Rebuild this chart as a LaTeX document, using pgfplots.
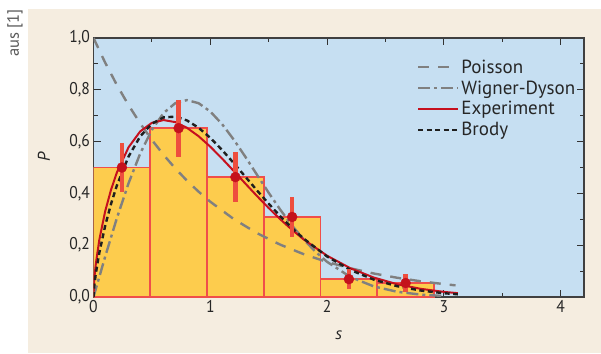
\documentclass[border=0pt]{standalone}
\usepackage{fontspec}
\setmainfont{PT Sans}
\newfontfamily\tickfont{PT Sans}[FakeStretch=0.92]
\usepackage{pgfplots}
\pgfplotsset{compat=1.18}
\definecolor{bgbeige}{RGB}{245,237,224}
\definecolor{axisblue}{RGB}{198,223,242}
\definecolor{baryellow}{RGB}{253,204,77}
\definecolor{barred}{RGB}{240,78,74}
\definecolor{ptred}{RGB}{196,18,28}
\definecolor{errred}{RGB}{238,78,62}
\definecolor{expred}{RGB}{198,16,30}
\definecolor{curvegray}{RGB}{128,128,128}
\begin{document}
\begin{tikzpicture}
\fill[white] (0pt,0pt) rectangle (601pt,353pt);
\fill[bgbeige] (28pt,0pt) rectangle (601pt,344pt);
\node[rotate=90, anchor=center, text=black!65, font=\fontsize{16.5}{16.5}\selectfont, inner sep=0pt] at (15pt,320pt) {aus [1]};
\begin{axis}[
  at={(93.5pt,56pt)}, anchor=south west,
  scale only axis, width=490.5pt, height=259pt,
  xmin=0, xmax=4.2, ymin=0, ymax=1,
  axis background/.style={fill=axisblue},
  axis line style={black!75, line width=1.2pt},
  tick align=inside,
  major tick length=7pt, minor tick length=4pt,
  tick style={black!80, line width=0.9pt},
  xtick={0,1,2,3,4}, minor x tick num=1,
  ytick={0,0.2,0.4,0.6,0.8,1.0}, minor y tick num=1,
  /pgf/number format/assume math mode=true,
  ticklabel style={font=\tickfont\fontsize{17}{17}\selectfont, text=black!85},
  yticklabel style={/pgf/number format/.cd, fixed, fixed zerofill, precision=1, use comma},
  xticklabel style={/pgf/number format/.cd, fixed, precision=0},
  xlabel={\textit{s}}, ylabel={\textit{P}},
  label style={font=\fontsize{17}{17}\selectfont, text=black!85},
  xlabel style={at={(axis description cs:0.5,-0.147)}, anchor=center},
  ylabel style={at={(axis description cs:-0.101,0.54)}, anchor=center},
  legend style={at={(axis description cs:0.659,0.925)}, anchor=north west, draw=none, fill=none,
    font=\fontsize{19}{19}\selectfont, row sep=2pt, inner sep=0pt, text=black!85},
  legend cell align=left,
  legend image code/.code={\draw[#1] (0pt,0pt) -- (40pt,0pt);},
]
\addplot[ybar interval, fill=baryellow, draw=barred, line width=1.6pt, forget plot]
  coordinates {(0,0.500) (0.486,0.652) (0.972,0.463) (1.458,0.309) (1.944,0.069) (2.43,0.054) (2.916,0.054)};
% Poisson
\addplot[curvegray, line width=2.4pt, dash pattern=on 11pt off 9pt]
  coordinates {(0,1) (0.1,0.9048) (0.2,0.8187) (0.3,0.7408) (0.4,0.6703) (0.5,0.6065) (0.6,0.5488) (0.7,0.4966) (0.8,0.4493) (0.9,0.4066) (1.0,0.3679) (1.2,0.3012) (1.4,0.2466) (1.6,0.2019) (1.8,0.1653) (2.0,0.1353) (2.2,0.1108) (2.4,0.0907) (2.6,0.0743) (2.8,0.0608) (3.0,0.0498) (3.1,0.0450)};
\addlegendentry{Poisson}
% Wigner-Dyson
\addplot[curvegray, line width=2.4pt, dash pattern=on 12pt off 4pt on 3pt off 4pt]
  coordinates {(0,0) (0.1,0.1559) (0.2,0.3044) (0.3,0.4391) (0.4,0.5541) (0.5,0.6454) (0.6,0.7103) (0.7,0.7483) (0.8,0.7602) (0.9,0.7483) (1.0,0.7162) (1.1,0.6680) (1.2,0.6083) (1.3,0.5415) (1.4,0.4718) (1.5,0.4025) (1.6,0.3365) (1.7,0.2759) (1.8,0.2219) (1.9,0.1752) (2.0,0.1358) (2.2,0.0772) (2.4,0.0409) (2.6,0.0202) (2.8,0.0093) (3.0,0.0040)};
\addlegendentry{Wigner-Dyson}
% Experiment
\addplot[expred, line width=2pt]
  coordinates {(0,0) (0.005,0.0560) (0.01,0.0849) (0.02,0.1284) (0.05,0.2214) (0.1,0.3310) (0.15,0.4139) (0.2,0.4805) (0.3,0.5780) (0.4,0.6394) (0.5,0.6725) (0.6,0.6831) (0.7,0.6753) (0.8,0.6533) (0.9,0.6207) (1.0,0.5804) (1.1,0.5350) (1.2,0.4870) (1.3,0.4381) (1.4,0.3898) (1.5,0.3435) (1.6,0.2998) (1.7,0.2593) (1.8,0.2222) (2.0,0.1594) (2.2,0.1110) (2.4,0.0751) (2.6,0.0494) (2.8,0.0317) (3.0,0.0198) (3.12,0.0148)};
\addlegendentry{Experiment}
% Brody
\addplot[black!88, line width=2.4pt, dash pattern=on 5pt off 3.5pt]
  coordinates {(0,0) (0.005,0.0344) (0.01,0.0558) (0.02,0.0906) (0.05,0.1711) (0.1,0.2750) (0.15,0.3593) (0.2,0.4305) (0.3,0.5422) (0.4,0.6202) (0.5,0.6691) (0.6,0.6935) (0.7,0.6963) (0.8,0.6818) (0.9,0.6534) (1.0,0.6145) (1.1,0.5682) (1.2,0.5175) (1.3,0.4646) (1.4,0.4115) (1.5,0.3603) (1.6,0.3115) (1.7,0.2665) (1.8,0.2254) (2.0,0.1564) (2.2,0.1044) (2.4,0.0671) (2.6,0.0417) (2.8,0.0251) (3.0,0.0146) (3.12,0.0104)};
\addlegendentry{Brody}
% data points
\addplot[forget plot, only marks, mark=*, mark size=5pt, mark options={fill=ptred, draw=ptred, solid},
  error bars/.cd, y dir=both, y explicit, error mark=none,
  error bar style={line width=4.5pt, errred, solid}]
  coordinates {(0.243,0.500) +- (0,0.095) (0.729,0.652) +- (0,0.11) (1.215,0.463) +- (0,0.095) (1.701,0.309) +- (0,0.077) (2.187,0.069) +- (0,0.04) (2.673,0.054) +- (0,0.035)};
\end{axis}
\end{tikzpicture}
\end{document}
